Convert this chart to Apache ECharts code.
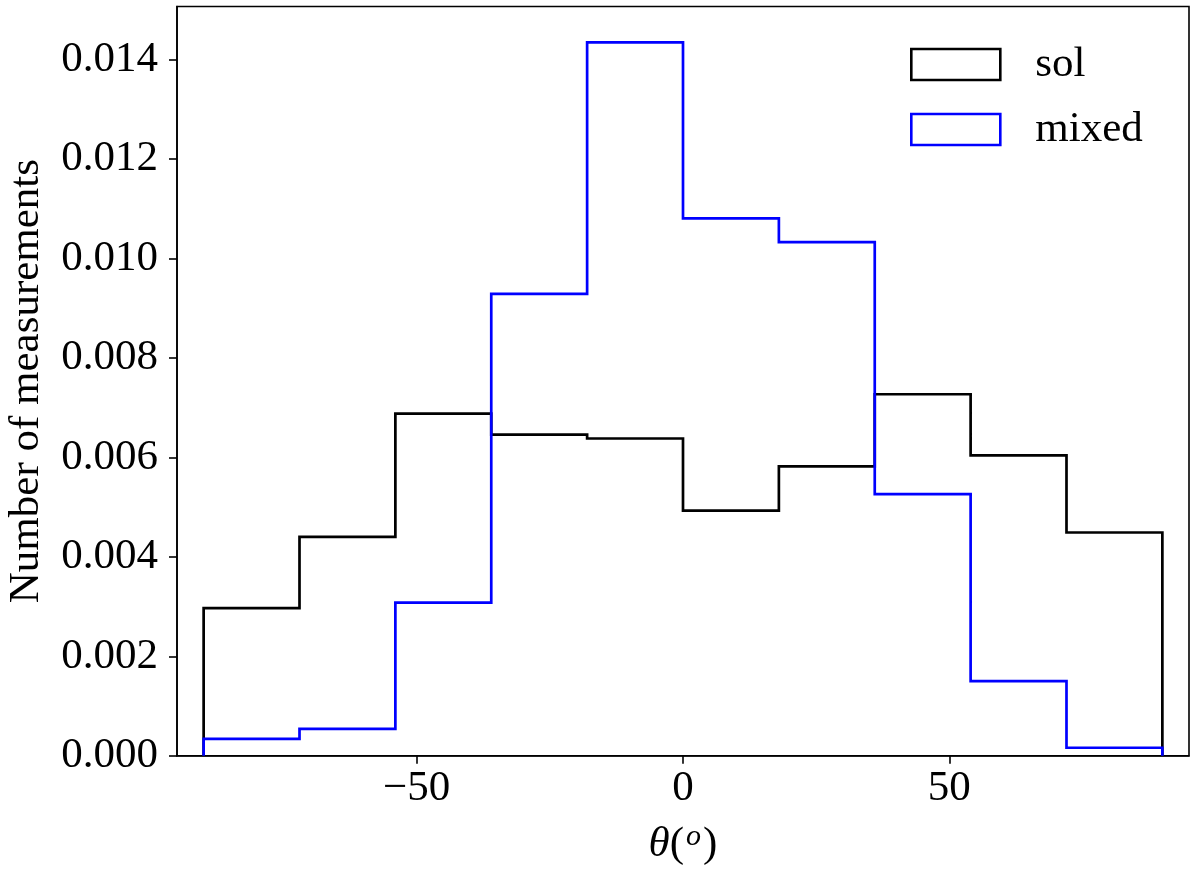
<!DOCTYPE html>
<html>
<head>
<meta charset="utf-8">
<script src="https://cdn.jsdelivr.net/npm/echarts@6/dist/echarts.min.js"></script>
<style>
html,body{margin:0;padding:0;background:#fff;}
#chart{width:1200px;height:877px;}
</style>
</head>
<body>
<div id="chart"></div>
<script>
// Histogram bin edges (degrees)
const binEdges = [-90, -72, -54, -36, -18, 0, 18, 36, 54, 72, 90];
// Density per bin
const solValues   = [0.00297, 0.00440, 0.00688, 0.00646, 0.00638, 0.00493, 0.00582, 0.00727, 0.00604, 0.00449];
const mixedValues = [0.00034, 0.00054, 0.00308, 0.00929, 0.01435, 0.01081, 0.01033, 0.00526, 0.00150, 0.00016];
const seriesNames = ['sol', 'mixed'];
const seriesColors = ['#000000', '#0000ff'];
// Tick labels
const xTicks = [-50, 0, 50];
const yTicks = [0, 0.002, 0.004, 0.006, 0.008, 0.010, 0.012, 0.014];

function stepData(values) {
  const d = [[binEdges[0], 0]];
  for (let i = 0; i < values.length; i++) d.push([binEdges[i], values[i]]);
  d.push([binEdges[binEdges.length - 1], values[values.length - 1]]);
  d.push([binEdges[binEdges.length - 1], 0]);
  return d;
}

const FONT = 'Liberation Serif';
const FS = 43;
const chart = echarts.init(document.getElementById('chart'));
chart.setOption({
  animation: false,
  backgroundColor: '#fff',
  grid: {
    left: 177, right: 11, top: 6.5, bottom: 121.3,
    outerBoundsMode: 'none', containLabel: false,
    show: true, borderColor: '#000', borderWidth: 1.6, backgroundColor: 'transparent'
  },
  legend: {
    left: 910, top: 43, padding: 0, orient: 'vertical',
    itemWidth: 89, itemHeight: 31, itemGap: 22,
    icon: 'rect',
    textStyle: { fontFamily: FONT, fontSize: FS, color: '#000', padding: [0, 0, 0, 30] },
    data: seriesNames.map((n, i) => ({
      name: n, icon: 'rect',
      itemStyle: { color: 'rgba(0,0,0,0)', borderColor: seriesColors[i], borderWidth: 2.6 }
    }))
  },
  xAxis: {
    type: 'value', min: -95, max: 95,
    splitLine: { show: false },
    axisLine: { onZero: false, lineStyle: { color: '#000', width: 1.6 } },
    axisTick: { show: true, length: 8, customValues: xTicks, lineStyle: { color: '#000', width: 1.6 } },
    axisLabel: {
      customValues: xTicks, margin: 12,
      fontFamily: FONT, fontSize: FS, color: '#000',
      formatter: v => String(v).replace('-', '\u2212')
    },
    name: '{i|θ}{n|(}{s|o}{n|)}',
    nameLocation: 'middle', nameGap: 66,
    nameTextStyle: {
      fontFamily: FONT, fontSize: FS, color: '#000',
      rich: {
        i: { fontFamily: FONT, fontSize: FS, fontStyle: 'italic', color: '#000' },
        n: { fontFamily: FONT, fontSize: FS, color: '#000' },
        s: { fontFamily: FONT, fontSize: 30, fontStyle: 'italic', color: '#000', verticalAlign: 'top', padding: [0, 2, 16, 2] }
      }
    }
  },
  yAxis: {
    type: 'value', min: 0, max: 0.01507,
    splitLine: { show: false },
    axisLine: { show: true, onZero: false, lineStyle: { color: '#000', width: 1.6 } },
    axisTick: { show: true, length: 8, customValues: yTicks, lineStyle: { color: '#000', width: 1.6 } },
    axisLabel: {
      customValues: yTicks, margin: 19,
      fontFamily: FONT, fontSize: FS, color: '#000',
      formatter: v => v.toFixed(3)
    },
    name: 'Number of measurements',
    nameLocation: 'middle', nameGap: 129,
    nameTextStyle: { fontFamily: FONT, fontSize: FS, color: '#000' }
  },
  series: [solValues, mixedValues].map((vals, i) => ({
    name: seriesNames[i],
    type: 'line',
    step: 'end',
    data: stepData(vals),
    showSymbol: false,
    symbol: 'none',
    itemStyle: { color: seriesColors[i] },
    lineStyle: { color: seriesColors[i], width: 2.7, join: 'miter' },
    z: 2 + i
  }))
});
</script>
</body>
</html>
